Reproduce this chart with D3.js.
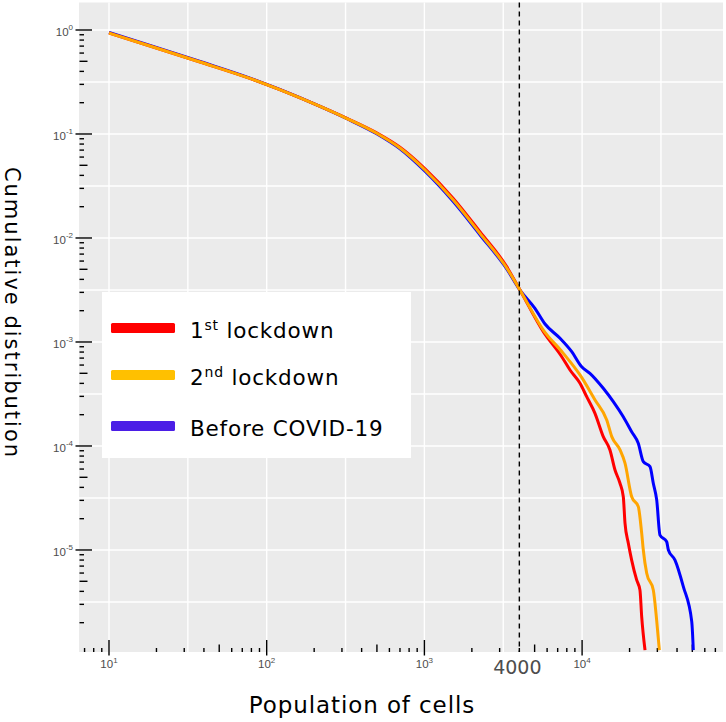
<!DOCTYPE html>
<html><head><meta charset="utf-8">
<script src="https://cdn.jsdelivr.net/npm/d3@7"></script>
<style>body{margin:0;background:#fff}</style></head>
<body><svg id="c" width="726" height="722"></svg>
<script>
// ---- data ----
const seriesNames = ["1st lockdown", "2nd lockdown", "Before COVID-19"];
const legendSups = ["st", "nd", ""];
const popRed = [10, 18.2, 37.8, 78.3, 121, 218, 320, 498, 700, 1009, 1524, 2249, 3326, 4036,
  5675, 7430, 8380, 9700, 10690, 12070, 13620, 15020, 16170, 17390, 18250, 18710, 19640, 20620, 22180, 23270, 23870, 25060];
const cdfRed = [0.935, 0.701, 0.492, 0.342, 0.2665, 0.184, 0.1420, 0.1025, 0.0745, 0.0462, 0.0240, 0.0115, 0.0053, 0.00316,
  1.256e-3, 7.22e-4, 5.38e-4, 4.01e-4, 2.98e-4, 2.06e-4, 1.23e-4, 9.16e-5, 5.88e-5, 4.38e-5, 3.25e-5, 1.81e-5, 1.16e-5, 8.0e-6, 5.15e-6, 4.12e-6, 2.29e-6, 1.09e-6];
const popOrange = [10, 18.2, 37.8, 78.3, 121, 218, 320, 498, 700, 1009, 1524, 2249, 3326, 4036,
  5675, 7603, 9701, 12080, 14330, 15420, 17400, 18710, 20630, 22720, 23870, 24440, 25690, 28280, 29700, 30900];
const cdfOrange = [0.935, 0.701, 0.492, 0.342, 0.2665, 0.184, 0.1416, 0.1016, 0.0733, 0.0451, 0.0232, 0.01109, 0.00515, 0.00316,
  1.303e-3, 7.78e-4, 4.82e-4, 2.77e-4, 1.78e-4, 1.23e-4, 9.16e-5, 6.83e-5, 3.25e-5, 2.61e-5, 1.45e-5, 1.0e-5, 5.97e-6, 4.12e-6, 2.12e-6, 1.09e-6];
const popBlue = [10, 18.2, 37.8, 78.3, 121, 218, 320, 498, 700, 1009, 1524, 2249, 3326, 4036,
  5023, 5821, 7244, 8597, 9937, 11210, 13620, 15770, 18240, 20620, 22710, 24440, 26960, 28280, 29720, 31190, 34390, 35240, 38820, 43850, 49580, 50730];
const cdfBlue = [0.950, 0.712, 0.498, 0.345, 0.268, 0.184, 0.1410, 0.1005, 0.0720, 0.0438, 0.0224, 0.01075, 0.00505, 0.00316,
  2.109e-3, 1.489e-3, 1.086e-3, 8.07e-4, 5.78e-4, 5.0e-4, 3.59e-4, 2.67e-4, 1.91e-4, 1.37e-4, 1.06e-4, 7.06e-5, 6.33e-5, 4.38e-5, 3.03e-5, 1.39e-5, 1.20e-5, 1.0e-5, 8.0e-6, 4.44e-6, 2.05e-6, 1.09e-6];
const xTickExps = [1, 2, 3, 4];
const yTickExps = [0, -1, -2, -3, -4, -5];
const markerValue = 4000;
const markerLabel = "4000";
const xTitle = "Population of cells";
const yTitle = "Cumulative distribution";

// ---- layout ----
const P = {l: 79, r: 723, t: 2.5, b: 652};
const svg = d3.select("#c");
const x = d3.scaleLog().domain([Math.pow(10, 0.8098), Math.pow(10, 4.8935)]).range([P.l, P.r]);
const y = d3.scaleLog().domain([Math.pow(10, -5.981), Math.pow(10, 0.2644)]).range([P.b, P.t]);

svg.append("rect").attr("x", P.l).attr("y", P.t).attr("width", P.r - P.l).attr("height", P.b - P.t).attr("fill", "#EBEBEB");
svg.append("clipPath").attr("id", "clip").append("rect").attr("x", P.l).attr("y", P.t).attr("width", P.r - P.l).attr("height", P.b - P.t);

// gridlines (major decades and half decades)
const gx = [];
xTickExps.forEach(e => { gx.push(Math.pow(10, e)); gx.push(Math.pow(10, e + 0.5)); });
gx.push(Math.pow(10, 0.5));
const gy = [];
yTickExps.forEach(e => { gy.push(Math.pow(10, e)); gy.push(Math.pow(10, e - 0.5)); });
const grid = svg.append("g").attr("stroke", "#fff").attr("stroke-width", 1.4);
gx.filter(v => x(v) > P.l && x(v) < P.r).forEach(v => grid.append("line").attr("x1", x(v)).attr("x2", x(v)).attr("y1", P.t).attr("y2", P.b));
gy.filter(v => y(v) > P.t && y(v) < P.b).forEach(v => grid.append("line").attr("y1", y(v)).attr("y2", y(v)).attr("x1", P.l).attr("x2", P.r));

// log ticks
const lt = svg.append("g").attr("stroke", "#000").attr("stroke-width", 1.4);
for (let e = 0; e <= 5; e++) for (let m = 1; m <= 9; m++) {
  const v = m * Math.pow(10, e), px = x(v);
  if (px < P.l || px > P.r) continue;
  if (m === 1) lt.append("line").attr("x1", px).attr("x2", px).attr("y1", P.b + 3.5).attr("y2", P.b - 12);
  else if (m === 5) lt.append("line").attr("x1", px).attr("x2", px).attr("y1", P.b).attr("y2", P.b - 7.5);
  else lt.append("line").attr("x1", px).attr("x2", px).attr("y1", P.b).attr("y2", P.b - 4);
}
for (let e = -7; e <= 0; e++) for (let m = 1; m <= 9; m++) {
  const v = m * Math.pow(10, e), py = y(v);
  if (py < P.t || py > P.b) continue;
  if (m === 1) lt.append("line").attr("y1", py).attr("y2", py).attr("x1", P.l - 3.5).attr("x2", P.l + 13);
  else if (m === 5) lt.append("line").attr("y1", py).attr("y2", py).attr("x1", P.l + 0.5).attr("x2", P.l + 8.5);
  else lt.append("line").attr("y1", py).attr("y2", py).attr("x1", P.l + 0.5).attr("x2", P.l + 5);
}

// tick labels
const lblFont = "Liberation Sans, Arial, sans-serif";
xTickExps.forEach(e => {
  const t = svg.append("text").attr("x", x(Math.pow(10, e))).attr("y", 668).attr("text-anchor", "middle")
    .attr("font-family", lblFont).attr("font-size", 11.5).attr("fill", "#4D4D4D");
  t.append("tspan").text("10");
  t.append("tspan").attr("dy", -5.5).attr("font-size", 8).text(e);
});
yTickExps.forEach(e => {
  const t = svg.append("text").attr("x", 73).attr("y", y(Math.pow(10, e)) + 6).attr("text-anchor", "end")
    .attr("font-family", lblFont).attr("font-size", 11.5).attr("fill", "#4D4D4D");
  t.append("tspan").text("10");
  t.append("tspan").attr("dy", -5.5).attr("font-size", 8).text(e);
});
svg.append("text").attr("x", x(markerValue) - 2).attr("y", 674).attr("text-anchor", "middle")
  .attr("font-family", "DejaVu Sans, Verdana, sans-serif").attr("font-size", 19).attr("fill", "#4D4D4D").text(markerLabel);

// series lines
const line = d3.line().x(d => x(d[0])).y(d => y(d[1])).curve(d3.curveMonotoneX);
const lines = [
  {xs: popBlue, ys: cdfBlue, color: "#0000FF"},
  {xs: popRed, ys: cdfRed, color: "#FF0000"},
  {xs: popOrange, ys: cdfOrange, color: "#FFA500"}
];
const lg = svg.append("g").attr("clip-path", "url(#clip)");
lines.forEach(s => {
  lg.append("path").datum(s.xs.map((v, i) => [v, s.ys[i]])).attr("d", line)
    .attr("fill", "none").attr("stroke", s.color).attr("stroke-width", 3).attr("stroke-linejoin", "round");
});

// vertical dashed marker
svg.append("line").attr("x1", x(markerValue)).attr("x2", x(markerValue)).attr("y1", P.t).attr("y2", P.b)
  .attr("stroke", "#000").attr("stroke-width", 1.4).attr("stroke-dasharray", "5,4");

// legend
const legendColors = ["#FF0000", "#FFC000", "#4B1EE6"];
svg.append("rect").attr("x", 102).attr("y", 292).attr("width", 309).attr("height", 166).attr("fill", "#fff");
const legY = [328, 375, 426];
seriesNames.forEach((n, i) => {
  svg.append("rect").attr("x", 111).attr("y", legY[i] - 5).attr("width", 64).attr("height", 10).attr("rx", 1.5).attr("fill", legendColors[i]);
  const t = svg.append("text").attr("x", 190).attr("y", legY[i] + 10).attr("font-family", "DejaVu Sans, Verdana, sans-serif")
    .attr("font-size", 21.5).attr("letter-spacing", 0.8).attr("fill", "#000");
  if (legendSups[i]) {
    const parts = n.split(legendSups[i]);
    t.append("tspan").text(parts[0]);
    t.append("tspan").attr("dy", -8).attr("font-size", 14).text(legendSups[i]);
    t.append("tspan").attr("dy", 8).text(parts[1]);
  } else t.text(n);
});

// axis titles
svg.append("text").attr("x", 362).attr("y", 713).attr("text-anchor", "middle")
  .attr("font-family", "DejaVu Sans, Verdana, sans-serif").attr("font-size", 23).attr("letter-spacing", 0.9).attr("fill", "#000").text(xTitle);
svg.append("text").attr("transform", "translate(5,313) rotate(90)").attr("text-anchor", "middle")
  .attr("font-family", "DejaVu Sans, Verdana, sans-serif").attr("font-size", 21).attr("letter-spacing", 2).attr("fill", "#000").text(yTitle);
</script></body></html>
